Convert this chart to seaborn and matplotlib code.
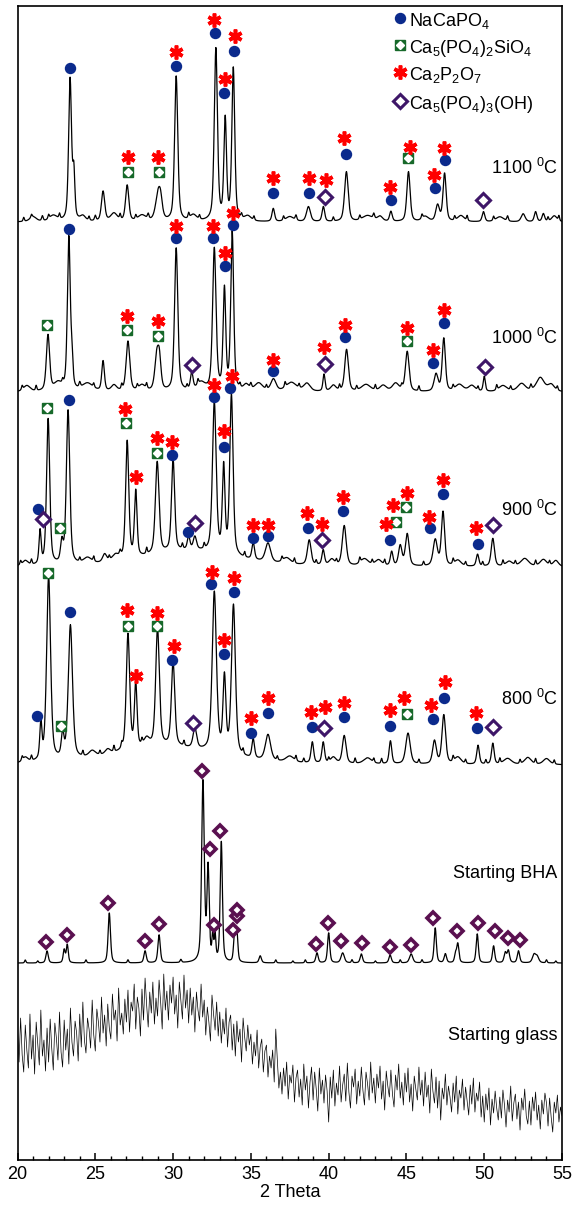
import numpy as np
import pandas as pd
import matplotlib
matplotlib.use("Agg")
import matplotlib.pyplot as plt
from matplotlib.ticker import MultipleLocator
import seaborn as sns

# --- XRD traces: peaks as (2theta, height above baseline, fwhm) ---
base_1100 = 938
peaks_1100 = [(23.38, 142, 0.22), (23.62, 45, 0.16), (25.5, 30, 0.25), (27.05, 36, 0.25),
              (29.05, 28, 0.4), (29.2, 12, 0.25), (30.2, 145, 0.24), (32.75, 172, 0.24),
              (33.35, 100, 0.2), (33.87, 152, 0.22), (36.44, 13, 0.2), (38.7, 15, 0.3),
              (39.66, 15, 0.2), (41.14, 50, 0.28), (44.0, 10, 0.2), (45.13, 50, 0.25),
              (47.0, 16, 0.28), (47.45, 48, 0.24), (49.95, 10, 0.2), (52.5, 8, 0.3),
              (53.3, 10, 0.2), (53.8, 8, 0.2),
              (21.0, 5, 0.5), (22.3, 6, 0.6), (24.2, 5, 0.4), (26.2, 8, 0.5), (28.0, 6, 0.6),
              (31.3, 6, 0.5), (34.8, 5, 0.5), (37.5, 5, 0.6), (42.5, 6, 0.8), (43.3, 5, 0.4),
              (46.2, 5, 0.5), (48.5, 6, 0.5), (51.0, 5, 0.6), (54.5, 6, 0.4)]
fine_1100 = [(20.4, 4, 0.1), (20.9, 3, 0.1), (21.6, 5, 0.12), (22.0, 4, 0.1), (22.7, 5, 0.1),
             (24.6, 4, 0.1), (25.0, 5, 0.12), (26.6, 5, 0.1), (27.6, 4, 0.1), (28.4, 5, 0.12),
             (31.0, 5, 0.1), (31.7, 4, 0.1), (34.4, 4, 0.1), (35.2, 4, 0.1), (37.1, 4, 0.1),
             (37.9, 5, 0.12), (40.3, 4, 0.1), (42.0, 4, 0.1), (42.9, 5, 0.12), (46.0, 4, 0.1),
             (48.1, 4, 0.1), (48.9, 5, 0.1), (50.6, 4, 0.1), (51.5, 5, 0.12), (54.1, 4, 0.1),
             (54.8, 5, 0.1)]

base_1000 = 768
peaks_1000 = [(21.96, 56, 0.25), (23.3, 153, 0.22), (23.5, 25, 0.16), (25.5, 30, 0.2),
              (27.1, 50, 0.28), (28.95, 33, 0.3), (29.12, 28, 0.25), (30.2, 143, 0.25),
              (31.2, 17, 0.2), (32.65, 142, 0.26), (33.3, 100, 0.2), (33.8, 158, 0.22),
              (36.45, 12, 0.4), (39.7, 17, 0.16), (41.15, 42, 0.28), (45.05, 40, 0.28),
              (46.9, 17, 0.3), (47.4, 53, 0.24), (50.0, 15, 0.16), (53.6, 14, 0.6),
              (20.6, 6, 0.5), (22.6, 8, 0.6), (24.5, 8, 0.8), (26.2, 6, 0.4), (28.0, 6, 0.5),
              (31.8, 8, 0.6), (34.7, 6, 0.4), (35.5, 8, 0.6), (37.6, 9, 0.8), (38.6, 8, 0.5),
              (40.3, 6, 0.4), (42.4, 7, 0.7), (43.5, 6, 0.5), (44.3, 8, 0.5), (48.4, 7, 0.6),
              (49.2, 6, 0.5), (51.2, 6, 0.6), (52.4, 8, 0.6), (54.3, 7, 0.5)]
fine_1000 = [(20.3, 4, 0.1), (21.2, 5, 0.1), (22.9, 4, 0.1), (24.0, 5, 0.12), (24.9, 4, 0.1),
             (26.7, 5, 0.1), (27.7, 4, 0.1), (28.3, 5, 0.1), (30.9, 4, 0.1), (31.6, 5, 0.1),
             (34.3, 4, 0.1), (35.0, 5, 0.12), (36.0, 4, 0.1), (37.2, 5, 0.1), (38.1, 4, 0.1),
             (40.7, 5, 0.1), (41.8, 4, 0.1), (43.0, 5, 0.1), (44.7, 4, 0.1), (45.8, 5, 0.1),
             (48.0, 4, 0.1), (49.6, 4, 0.1), (50.8, 5, 0.1), (51.7, 4, 0.1), (53.0, 5, 0.12),
             (54.7, 4, 0.1)]

base_900 = 593
peaks_900 = [(21.45, 33, 0.16), (21.97, 146, 0.24), (22.85, 20, 0.2), (23.25, 154, 0.26),
             (27.05, 118, 0.24), (27.6, 66, 0.2), (28.98, 92, 0.28), (30.0, 92, 0.24),
             (31.0, 13, 0.2), (31.4, 13, 0.25), (32.65, 150, 0.28), (33.25, 85, 0.2),
             (33.75, 160, 0.25), (35.15, 17, 0.2), (36.1, 19, 0.4), (38.75, 25, 0.28),
             (39.65, 15, 0.2), (41.0, 40, 0.3), (44.05, 14, 0.2), (44.6, 20, 0.26),
             (45.05, 32, 0.28), (46.85, 26, 0.32), (47.35, 54, 0.25), (49.57, 12, 0.2),
             (50.55, 28, 0.25), (31.0, 16, 7.0),
             (20.5, 5, 0.4), (24.5, 6, 0.6), (25.6, 8, 0.3), (26.3, 6, 0.5), (37.3, 6, 0.6),
             (40.2, 6, 0.4), (42.3, 7, 0.6), (43.2, 6, 0.5), (48.3, 6, 0.5), (51.6, 5, 0.5),
             (52.6, 8, 0.6), (53.8, 7, 0.5), (54.6, 6, 0.4)]
fine_900 = [(20.2, 4, 0.1), (20.9, 5, 0.1), (24.0, 4, 0.1), (24.9, 5, 0.1), (25.9, 4, 0.1),
            (26.6, 5, 0.12), (28.3, 6, 0.1), (30.6, 5, 0.1), (32.0, 5, 0.1), (34.6, 5, 0.1),
            (37.0, 4, 0.1), (37.8, 5, 0.1), (39.2, 4, 0.1), (40.5, 4, 0.1), (42.0, 5, 0.1),
            (42.8, 4, 0.1), (43.6, 5, 0.1), (46.1, 4, 0.1), (48.0, 5, 0.1), (48.8, 4, 0.1),
            (49.9, 4, 0.1), (51.2, 5, 0.1), (52.0, 4, 0.1), (53.3, 5, 0.1), (54.2, 4, 0.1)]

base_800 = 395
peaks_800 = [(21.5, 36, 0.16), (22.0, 185, 0.3), (22.9, 23, 0.2), (23.4, 134, 0.32),
             (27.1, 116, 0.26), (27.6, 64, 0.2), (29.0, 118, 0.28), (30.0, 84, 0.26),
             (31.4, 20, 0.28), (32.65, 160, 0.32), (33.3, 74, 0.22), (33.88, 150, 0.3),
             (35.15, 19, 0.2), (36.1, 26, 0.4), (38.95, 21, 0.2), (39.65, 21, 0.2),
             (41.0, 28, 0.28), (43.97, 23, 0.2), (45.1, 31, 0.34), (46.8, 23, 0.28),
             (47.4, 49, 0.28), (49.6, 19, 0.2), (50.55, 21, 0.2), (29.5, 18, 8.0),
             (20.5, 5, 0.4), (24.8, 6, 0.5), (25.8, 5, 0.4), (28.3, 8, 0.4), (37.5, 6, 0.6),
             (40.3, 6, 0.4), (42.5, 6, 0.6), (48.3, 7, 0.5), (51.5, 6, 0.6), (52.8, 7, 0.5),
             (54.0, 6, 0.5)]
fine_800 = [(20.3, 4, 0.1), (20.9, 5, 0.1), (24.2, 5, 0.1), (25.3, 4, 0.1), (26.2, 6, 0.1),
            (26.7, 5, 0.1), (28.0, 5, 0.1), (30.7, 5, 0.1), (34.5, 5, 0.1), (36.7, 4, 0.1),
            (37.9, 5, 0.1), (38.4, 4, 0.1), (40.0, 4, 0.1), (41.7, 5, 0.1), (42.9, 4, 0.1),
            (43.4, 5, 0.1), (45.8, 4, 0.1), (48.0, 5, 0.1), (48.8, 4, 0.1), (50.1, 4, 0.1),
            (51.0, 5, 0.1), (52.3, 4, 0.1), (53.3, 5, 0.1), (54.5, 4, 0.1)]

base_bha = 197
peaks_bha = [(21.9, 12, 0.18), (23.0, 13, 0.15), (23.2, 18, 0.15), (25.9, 50, 0.18),
             (28.2, 12, 0.18), (29.1, 28, 0.18), (31.92, 180, 0.2), (32.25, 92, 0.17),
             (32.55, 24, 0.12), (32.7, 24, 0.12), (33.1, 120, 0.17), (33.95, 27, 0.15),
             (34.1, 30, 0.15), (35.6, 7, 0.18), (39.25, 10, 0.18), (40.0, 30, 0.17),
             (40.9, 10, 0.25), (42.1, 9, 0.18), (43.95, 8, 0.18), (45.3, 9, 0.25),
             (46.85, 35, 0.17), (47.5, 9, 0.18), (48.15, 8, 0.15), (48.3, 19, 0.17),
             (49.55, 29, 0.17), (50.6, 17, 0.17), (51.35, 10, 0.18), (51.55, 12, 0.18),
             (52.2, 12, 0.18), (53.2, 8, 0.25), (53.4, 6, 0.25)]
fine_bha = [(20.5, 3, 0.1), (21.3, 2, 0.1), (24.4, 3, 0.1), (27.1, 3, 0.1), (30.5, 3, 0.12),
            (36.6, 3, 0.1), (37.7, 2, 0.1), (38.5, 3, 0.1), (41.5, 3, 0.1), (43.0, 2, 0.1),
            (44.6, 3, 0.1), (46.0, 3, 0.1), (54.0, 3, 0.1), (54.6, 2, 0.1)]

# starting glass, one reading every 0.1 deg from 20 to 55
glass_counts = [
    130, 98, 142, 105, 88, 135, 110, 92, 146, 101,
    125, 86, 138, 117, 95, 150, 104, 120, 89, 132,
    98, 141, 112, 90, 137, 122, 100, 148, 108, 93,
    140, 110, 131, 96, 152, 118, 104, 139, 127, 99,
    146, 113, 158, 120, 107, 142, 131, 112, 160, 125,
    109, 151, 138, 118, 163, 127, 145, 114, 156, 132,
    121, 166, 140, 150, 119, 172, 135, 147, 126, 161,
    138, 170, 128, 158, 149, 176, 131, 163, 152, 124,
    171, 140, 182, 155, 133, 168, 147, 178, 136, 162,
    144, 180, 158, 131, 186, 150, 169, 140, 175, 157,
    183, 146, 165, 132, 178, 160, 141, 185, 152, 170,
    137, 172, 145, 163, 128, 168, 150, 139, 176, 143,
    160, 125, 153, 138, 119, 165, 146, 130, 158, 124,
    148, 117, 141, 126, 152, 113, 138, 145, 110, 136,
    104, 139, 118, 131, 98, 142, 123, 109, 135, 115,
    126, 96, 118, 104, 130, 92, 113, 121, 88, 109,
    115, 83, 104, 92, 110, 78, 131, 100, 72, 88,
    66, 92, 74, 98, 61, 85, 77, 95, 58, 82,
    90, 63, 81, 55, 96, 70, 84, 52, 78, 93,
    60, 88, 71, 49, 92, 66, 80, 57, 85, 69,
    38, 83, 62, 90, 54, 77, 65, 94, 58, 75,
    86, 59, 97, 68, 52, 84, 73, 91, 56, 79,
    64, 93, 70, 55, 88, 76, 60, 98, 67, 82,
    57, 86, 72, 94, 61, 79, 50, 89, 74, 63,
    90, 66, 53, 85, 70, 96, 62, 78, 55, 87,
    68, 92, 58, 76, 49, 84, 71, 60, 93, 65,
    80, 54, 88, 63, 75, 47, 91, 69, 57, 83,
    52, 79, 40, 72, 61, 86, 55, 74, 63, 48,
    77, 58, 84, 46, 70, 62, 81, 50, 73, 59,
    45, 75, 56, 82, 48, 67, 59, 78, 43, 64,
    38, 66, 50, 72, 35, 61, 47, 69, 52, 40,
    63, 42, 70, 55, 33, 60, 48, 74, 39, 57,
    66, 41, 58, 30, 62, 50, 71, 44, 36, 59,
    35, 63, 49, 68, 40, 55, 31, 60, 46, 67,
    57, 34, 62, 43, 28, 58, 47, 65, 38, 53,
    44]

# --- phase markers (2theta, height) ---
nacapo4_pts = [(23.4, 1092), (30.18, 1094), (32.69, 1127), (33.27, 1067), (33.91, 1109),
               (36.42, 967), (38.71, 967), (41.12, 1006), (44.03, 960), (46.82, 972), (47.47, 1000),
               (23.31, 931), (30.18, 922), (32.54, 922), (33.31, 894), (33.83, 935), (36.42, 789),
               (41.03, 823), (46.69, 797), (47.4, 837),
               (21.3, 651), (23.31, 760), (29.96, 705), (30.99, 628), (32.6, 763), (33.25, 713),
               (33.67, 772), (35.11, 622), (36.1, 624), (38.69, 632), (40.94, 649), (43.97, 620),
               (46.54, 632), (47.32, 666), (49.57, 616),
               (21.28, 444), (23.38, 548), (29.96, 500), (32.45, 576), (33.25, 506), (33.89, 568),
               (35.03, 427), (36.1, 447), (38.93, 433), (40.97, 443), (43.93, 434), (46.69, 441),
               (47.4, 462), (49.55, 432)]
silicate_pts = [(27.09, 988), (29.12, 988), (45.11, 1002),
                (21.92, 835), (27.03, 830), (29.02, 824), (45.05, 819),
                (21.92, 752), (22.73, 632), (26.96, 737), (28.96, 707), (44.35, 638), (45.0, 653),
                (21.98, 587), (22.8, 434), (27.09, 534), (28.96, 534), (45.05, 446)]
pyro_pts = [(27.09, 1003), (29.06, 1003), (30.18, 1108), (32.66, 1140), (33.31, 1081),
            (33.95, 1124), (36.42, 982), (38.71, 982), (39.85, 980), (41.01, 1022), (43.97, 973),
            (45.21, 1013), (46.76, 985), (47.4, 1012),
            (27.03, 844), (29.02, 839), (30.18, 934), (32.54, 934), (33.31, 907), (33.83, 947),
            (36.42, 800), (39.72, 813), (41.03, 835), (45.05, 832), (46.69, 810), (47.4, 850),
            (26.92, 751), (27.63, 683), (28.96, 722), (29.96, 718), (32.6, 775), (33.25, 729),
            (33.8, 784), (35.11, 635), (36.1, 635), (38.63, 647), (39.59, 636), (40.94, 663),
            (43.71, 636), (44.16, 655), (45.06, 667), (46.48, 643), (47.32, 680), (49.44, 632),
            (27.03, 550), (27.63, 484), (28.96, 547), (30.03, 514), (32.5, 588), (33.25, 520),
            (33.93, 582), (35.03, 442), (36.1, 462), (38.87, 448), (39.79, 453), (41.01, 457),
            (43.93, 450), (44.87, 462), (46.59, 455), (47.45, 478), (49.5, 447)]
hap_pts = [(39.74, 963), (49.93, 960),
           (31.21, 795), (39.79, 796), (50.02, 793),
           (21.62, 641), (31.42, 637), (39.59, 620), (50.53, 635),
           (31.31, 437), (39.68, 432), (50.55, 433)]
bha_pts = [(21.83, 218), (23.19, 225), (25.82, 257), (28.2, 219), (29.1, 236), (31.87, 389),
           (32.39, 311), (32.64, 235), (33.03, 329), (33.87, 230), (34.12, 244), (34.12, 250),
           (39.21, 216), (39.98, 237), (40.82, 219), (42.17, 217), (43.91, 213), (45.26, 215),
           (46.68, 242), (48.22, 229), (49.57, 237), (50.66, 229), (51.5, 222), (52.27, 220)]

trace_labels = ["1100 $^{0}$C", "1000 $^{0}$C", "900 $^{0}$C", "800 $^{0}$C",
                "Starting BHA", "Starting glass"]
label_y = [992, 822, 650, 461, 287, 125]
legend_labels = ["NaCaPO$_4$", "Ca$_5$(PO$_4$)$_2$SiO$_4$", "Ca$_2$P$_2$O$_7$",
                 "Ca$_5$(PO$_4$)$_3$(OH)"]
legend_y = [1142, 1115, 1088, 1059]

BLUE = "#0b2a8c"
GREEN = "#17692a"
RED = "#ff0000"
PURPLE = "#3e1668"
MAROON = "#5a1050"


def profile(x, peaks, base):
    y = np.full_like(x, float(base))
    for c, h, w in peaks:
        u = (x - c) / w
        y += h * (0.5 * np.exp(-4 * np.log(2) * u ** 2) + 0.5 / (1 + 4 * u ** 2))
    return y


sns.set_theme(style="white")
plt.rcParams["font.family"] = ["Liberation Sans", "DejaVu Sans"]
plt.rcParams["mathtext.default"] = "regular"
plt.rcParams["text.color"] = "black"
plt.rcParams["axes.labelcolor"] = "black"
plt.rcParams["xtick.color"] = "black"

tt = np.linspace(20, 55, 3501)
frames = []
for name, pk, fn, b in [("1100", peaks_1100, fine_1100, base_1100),
                        ("1000", peaks_1000, fine_1000, base_1000),
                        ("900", peaks_900, fine_900, base_900),
                        ("800", peaks_800, fine_800, base_800),
                        ("bha", peaks_bha, fine_bha, base_bha)]:
    frames.append(pd.DataFrame({"tt": tt, "I": profile(tt, pk + fn, b), "sample": name}))
df = pd.concat(frames, ignore_index=True)
glass = pd.DataFrame({"tt": np.linspace(20, 55, len(glass_counts)), "I": glass_counts})

fig = plt.figure(figsize=(5.72, 12.07), dpi=100)
ax = fig.add_axes([0.0306, 0.0389, 0.952, 0.9561])

sns.lineplot(data=df, x="tt", y="I", units="sample", estimator=None, sort=False,
             color="black", lw=0.9, ax=ax)
sns.lineplot(data=glass, x="tt", y="I", estimator=None, sort=False,
             color="black", lw=0.5, ax=ax)


def put(pts, **kw):
    xs, ys = zip(*pts)
    ax.plot(xs, ys, ls="none", zorder=5, clip_on=False, **kw)


put(nacapo4_pts, marker="o", ms=7.2, color=BLUE, mec=BLUE)
put(silicate_pts, marker="s", ms=7, color=GREEN, mec=GREEN)
put(silicate_pts, marker="D", ms=3.6, color="white", mec="white")
put(pyro_pts, marker=(6, 2, 0), ms=10, mew=2.6, color=RED)
put(hap_pts, marker="D", ms=6.8, mfc="white", mec=PURPLE, mew=2.2)
put(bha_pts, marker="D", ms=6.5, mfc="white", mec=MAROON, mew=2.6)

for lab, y in zip(trace_labels, label_y):
    ax.text(54.72, y, lab, ha="right", va="center", fontsize=13, color="black")

# legend drawn in data space, top right
leg_marks = [dict(marker="o", ms=7.2, color=BLUE),
             dict(marker="s", ms=7, color=GREEN),
             dict(marker=(6, 2, 0), ms=10, mew=2.6, color=RED),
             dict(marker="D", ms=6.8, mfc="white", mec=PURPLE, mew=2.2)]
for lab, y, mk in zip(legend_labels, legend_y, leg_marks):
    ax.plot([44.6], [y], ls="none", zorder=5, **mk)
    if mk["marker"] == "s":
        ax.plot([44.6], [y], ls="none", marker="D", ms=3.6, color="white", zorder=6)
    ax.text(45.15, y, lab, ha="left", va="center_baseline", fontsize=13, color="black")

ax.set_xlim(20, 55)
ax.set_ylim(0, 1154)
ax.set_yticks([])
ax.set_ylabel("")
ax.set_xticks(range(20, 56, 5))
ax.xaxis.set_minor_locator(MultipleLocator(1))
ax.tick_params(axis="x", which="major", direction="in", length=5, width=1.1,
               labelsize=13, pad=4, bottom=True, colors="black")
ax.tick_params(axis="x", which="minor", direction="in", length=3, width=1.0, bottom=True)
ax.set_xlabel("2 Theta", fontsize=13, labelpad=1, color="black")
for s in ax.spines.values():
    s.set_linewidth(1.2)
    s.set_color("black")

fig.savefig("out.png", dpi=100)
